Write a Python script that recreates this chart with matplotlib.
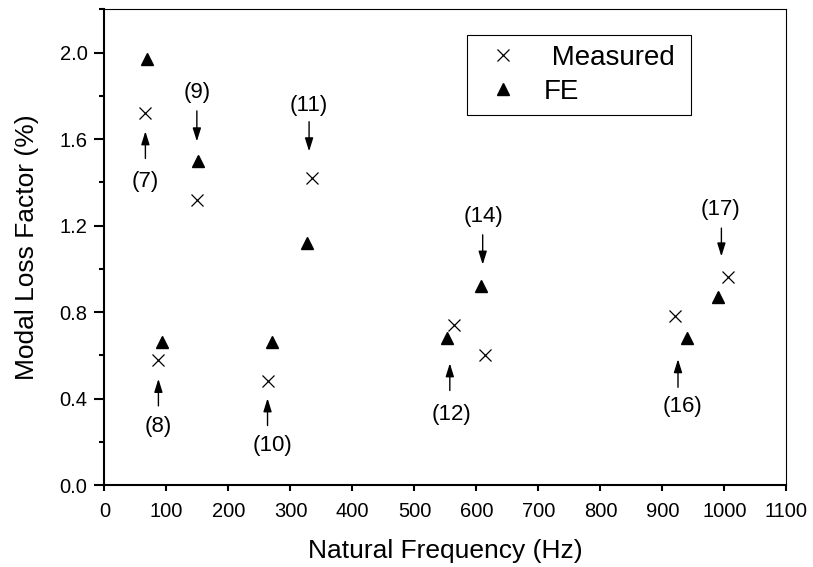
import matplotlib
matplotlib.use("Agg")
import matplotlib.pyplot as plt
from matplotlib.ticker import MultipleLocator, FormatStrFormatter

plt.rcParams['font.family'] = ['Liberation Sans', 'DejaVu Sans']

# Data
meas_freq = [65, 87, 149, 263, 334, 563, 614, 920, 1006]
meas_loss = [1.72, 0.58, 1.32, 0.48, 1.42, 0.74, 0.60, 0.78, 0.96]
fe_freq = [68, 93, 151, 270, 327, 553, 608, 940, 989]
fe_loss = [1.97, 0.66, 1.50, 0.66, 1.12, 0.68, 0.92, 0.68, 0.87]

# Mode annotations: label, arrow x, arrow tail y, arrow head y, label x, label y
mode_labels = ['(7)', '(8)', '(9)', '(10)', '(11)', '(12)', '(14)', '(16)', '(17)']
arrow_x = [66, 87, 149, 263, 330, 557, 610, 925, 995]
arrow_tail = [1.51, 0.366, 1.73, 0.275, 1.68, 0.437, 1.157, 0.452, 1.188]
arrow_head = [1.636, 0.491, 1.589, 0.401, 1.543, 0.563, 1.019, 0.582, 1.057]
label_x = [66, 87, 149, 271, 330, 560, 612, 933, 994]
label_y = [1.404, 0.27, 1.813, 0.185, 1.755, 0.324, 1.242, 0.362, 1.276]

fig = plt.figure(figsize=(8.13, 5.67), dpi=100)
ax = fig.add_axes([0.1285, 0.1446, 0.8389, 0.839])

ax.plot(meas_freq, meas_loss, linestyle='none', marker='x', color='black',
        markersize=8.5, markeredgewidth=0.9, label=' Measured')
ax.plot(fe_freq, fe_loss, linestyle='none', marker='^', color='black',
        markersize=9, label='FE')

for lab, ax_x, t, h, lx, ly in zip(mode_labels, arrow_x, arrow_tail, arrow_head, label_x, label_y):
    ax.annotate('', xy=(ax_x, h), xytext=(ax_x, t),
                arrowprops=dict(arrowstyle='-|>,head_length=0.8,head_width=0.25',
                                color='black', lw=1.0, shrinkA=0, shrinkB=0))
    ax.text(lx, ly, lab, ha='center', va='center', fontsize=16, color='black')

ax.set_xlim(0, 1100)
ax.set_ylim(0, 2.2)
ax.xaxis.set_major_locator(MultipleLocator(100))
ax.yaxis.set_major_locator(MultipleLocator(0.4))
ax.yaxis.set_minor_locator(MultipleLocator(0.2))
ax.yaxis.set_major_formatter(FormatStrFormatter('%.1f'))

for s in ['left', 'bottom']:
    ax.spines[s].set_linewidth(1.5)
for s in ['top', 'right']:
    ax.spines[s].set_linewidth(0.8)

ax.tick_params(axis='x', which='major', direction='out', length=4.3, width=1.5,
               labelsize=14.5, pad=8)
ax.tick_params(axis='y', which='major', direction='out', length=7.2, width=1.5,
               labelsize=14.5, pad=5)
ax.tick_params(axis='y', which='minor', direction='out', length=3.6, width=1.5)

ax.set_xlabel('Natural Frequency (Hz)', fontsize=19, labelpad=13)
ax.set_ylabel('Modal Loss Factor (%)', fontsize=19, labelpad=15)

leg = ax.legend(loc='upper left', bbox_to_anchor=(0.531, 0.776, 0.329, 0.170),
                mode='expand', fontsize=20,
                frameon=True, fancybox=False, framealpha=1, edgecolor='black',
                borderpad=0.35, handletextpad=0.54, labelspacing=0.295,
                handlelength=1.89, borderaxespad=0)
leg.get_frame().set_linewidth(0.8)

fig.savefig('out.png', dpi=100)
